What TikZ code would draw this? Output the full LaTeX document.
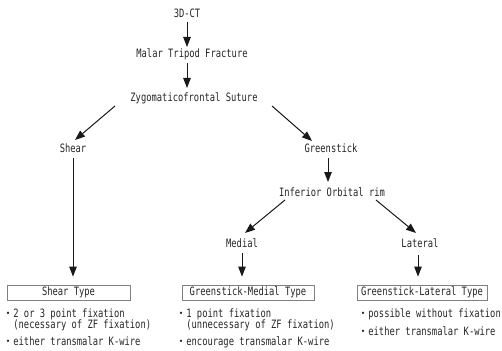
\documentclass[tikz,border=0pt]{standalone}
\usepackage{fontspec}
\newfontfamily\mono[FakeStretch=0.765]{DejaVu Sans Mono}
\newfontfamily\cjk{Noto Sans CJK JP}
\usetikzlibrary{arrows.meta,calc}
\newcommand\bul{\makebox[10.6pt]{\cjk\fontsize{11}{12}\selectfont ・}}
\newcommand\bsp{\hspace*{10.6pt}}
\begin{document}
\begin{tikzpicture}[x=1pt,y=-1pt,
  txt/.style={inner sep=0pt,anchor=base,font=\mono\fontsize{11.5}{12}\selectfont,text=black!85},
  ltxt/.style={txt,anchor=base west},
  arr/.style={-{Triangle[width=7.5pt,length=10pt]},line width=1pt,draw=black!90},
  tbox/.style={draw=black!50,line width=0.8pt,minimum height=15pt,inner sep=0pt,font=\mono\fontsize{11.5}{12}\selectfont,text=black!85}]
\useasboundingbox (0,0) rectangle (502,350);
\fill[white] (0,0) rectangle (502,350);
% text nodes
\node[txt] (ct) at (187,18) {3D-CT};
\node[txt] (mtf) at (192,58) {Malar Tripod Fracture};
\node[txt] (zfs) at (194,102) {Zygomaticofrontal Suture};
\node[txt] (sh) at (73,152) {Shear};
\node[txt] (gs) at (331,152) {Greenstick};
\node[txt] (ior) at (332,196) {Inferior Orbital rim};
\node[txt] (med) at (242,247) {Medial};
\node[txt] (lat) at (420,247) {Lateral};
% boxes
\node[tbox,minimum width=123pt] (shbox) at (68.5,292.5) {Shear Type};
\node[tbox,minimum width=132pt] (medbox) at (248,292.5) {Greenstick-Medial Type};
\node[tbox,minimum width=130pt] (latbox) at (422,292.5) {Greenstick-Lateral Type};
% connectors
\draw[arr] ($(ct.base)+(0,4)$) -- ($(mtf.base)+(-5,-11)$);
\draw[arr] ($(mtf.base)+(-5,5)$) -- ($(zfs.base)+(-7,-14)$);
\draw[arr] ($(zfs.base)+(-79,4)$) -- ($(sh.base)+(2,-12)$);
\draw[arr] ($(zfs.base)+(78,4)$) -- ($(gs.base)+(-19,-11)$);
\draw[arr] ($(gs.base)+(-3,6)$) -- ($(ior.base)+(-4,-14)$);
\draw[arr] ($(ior.base)+(-47,4)$) -- ($(med.base)+(3,-14)$);
\draw[arr] ($(ior.base)+(44,4)$) -- ($(lat.base)+(-4,-14)$);
\draw[arr] ($(sh.base)+(0,6)$) -- ($(shbox.north)+(4.5,-8)$);
\draw[arr] ($(med.base)+(0,6)$) -- ($(medbox.north)+(-6,-8)$);
\draw[arr] ($(lat.base)+(-2,8)$) -- ($(latbox.north)+(-4,-8)$);
% bullet texts
\node[ltxt] (sh1) at (2.6,317) {\bul 2 or 3 point fixation};
\node[ltxt] (sh2) at (2.6,328) {\bsp(necessary of ZF fixation)};
\node[ltxt] (sh3) at (2.6,345) {\bul either transmalar K-wire};
\node[ltxt] (md1) at (175.6,317) {\bul 1 point fixation};
\node[ltxt] (md2) at (175.6,328) {\bsp(unnecessary of ZF fixation)};
\node[ltxt] (md3) at (175.6,345) {\bul encourage transmalar K-wire};
\node[ltxt] (lt1) at (357.6,317) {\bul possible without fixation};
\node[ltxt] (lt2) at (357.6,335) {\bul either transmalar K-wire};
\end{tikzpicture}
\end{document}
